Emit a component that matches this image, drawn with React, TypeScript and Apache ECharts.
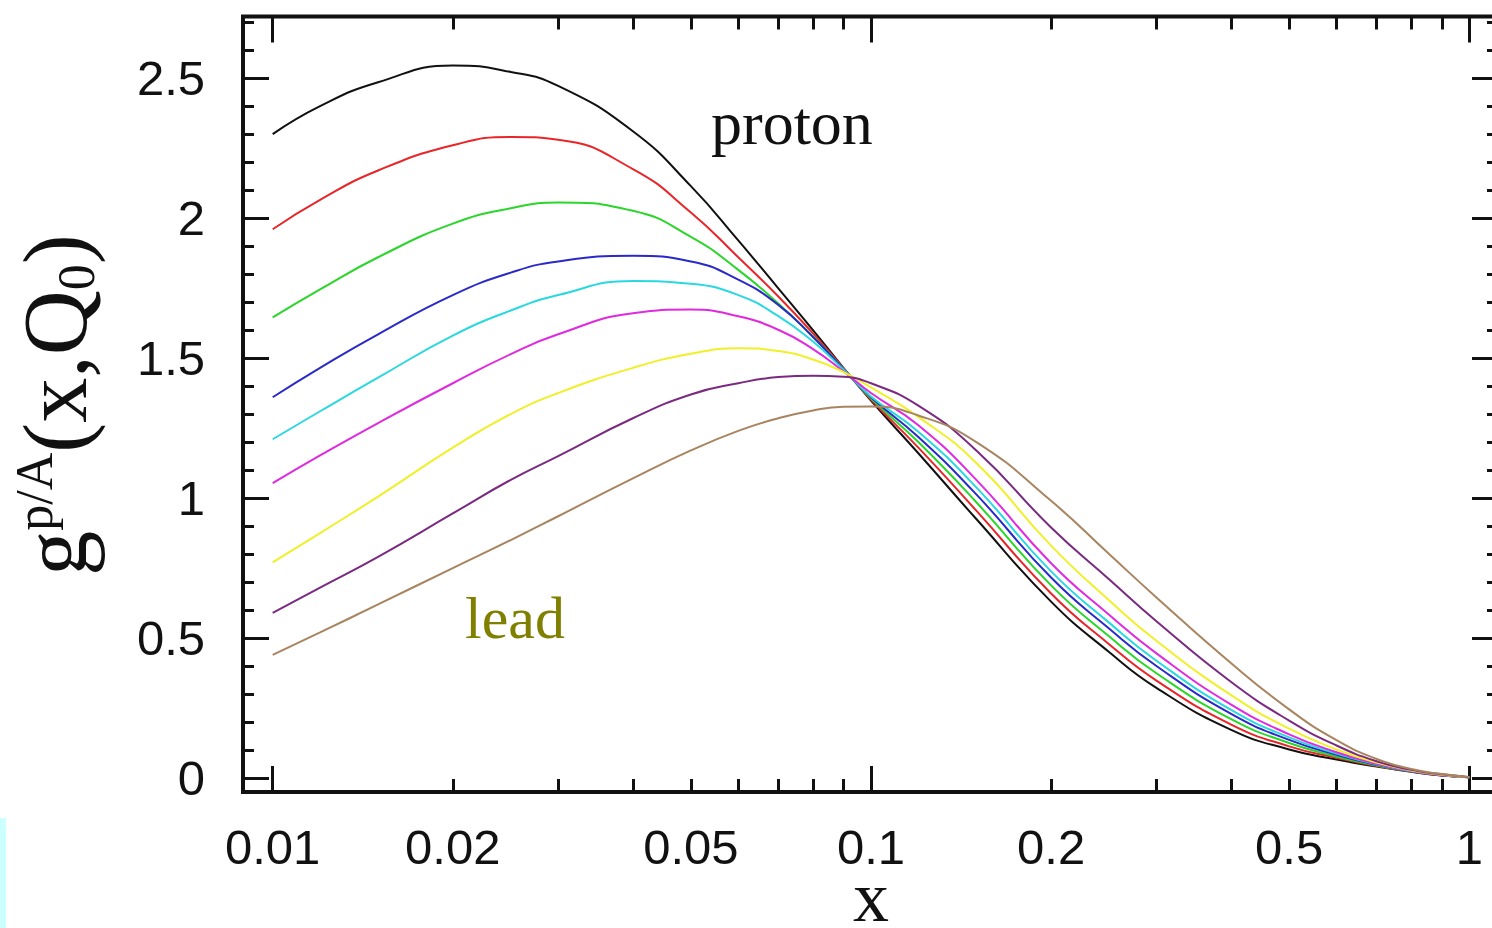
import React, { useEffect, useRef } from "react";
import * as echarts from "echarts";

// x grid (momentum fraction) shared by all curves
const X = [0.01, 0.012, 0.015, 0.02, 0.025, 0.03, 0.04, 0.05, 0.06, 0.07, 0.08, 0.09, 0.1, 0.12, 0.15, 0.2, 0.25, 0.3, 0.4, 0.5, 0.6, 0.7, 0.8, 0.9, 1.0];

// g^{p/A}(x,Q0) for the sequence of nuclei, proton -> lead
const PROTON = [2.30, 2.40, 2.485, 2.545, 2.522, 2.472, 2.31, 2.114, 1.92, 1.749, 1.60, 1.464, 1.348, 1.16, 0.925, 0.63, 0.45, 0.322, 0.172, 0.102, 0.066, 0.041, 0.022, 0.009, 0.003];
const RED = [1.96, 2.065, 2.17, 2.26, 2.29, 2.28, 2.175, 2.02, 1.86, 1.72, 1.588, 1.463, 1.352, 1.18, 0.955, 0.659, 0.478, 0.348, 0.191, 0.113, 0.072, 0.043, 0.023, 0.009, 0.003];
const GREEN = [1.645, 1.745, 1.86, 1.98, 2.035, 2.056, 2.026, 1.933, 1.815, 1.695, 1.577, 1.461, 1.356, 1.20, 0.985, 0.688, 0.506, 0.374, 0.21, 0.125, 0.077, 0.045, 0.024, 0.010, 0.003];
const BLUE = [1.36, 1.465, 1.585, 1.725, 1.805, 1.845, 1.865, 1.845, 1.78, 1.69, 1.575, 1.46, 1.36, 1.218, 1.013, 0.716, 0.534, 0.40, 0.229, 0.136, 0.083, 0.047, 0.024, 0.010, 0.003];
const CYAN = [1.21, 1.31, 1.43, 1.58, 1.67, 1.725, 1.775, 1.765, 1.725, 1.65, 1.559, 1.458, 1.363, 1.237, 1.038, 0.738, 0.555, 0.419, 0.243, 0.145, 0.087, 0.049, 0.025, 0.011, 0.003];
const MAGENTA = [1.053, 1.152, 1.268, 1.41, 1.514, 1.585, 1.66, 1.673, 1.649, 1.601, 1.532, 1.452, 1.375, 1.26, 1.065, 0.767, 0.583, 0.445, 0.262, 0.156, 0.092, 0.051, 0.026, 0.011, 0.003];
const YELLOW = [0.77, 0.875, 1.005, 1.18, 1.30, 1.375, 1.465, 1.515, 1.535, 1.525, 1.495, 1.45, 1.395, 1.29, 1.125, 0.83, 0.635, 0.49, 0.296, 0.176, 0.102, 0.055, 0.027, 0.012, 0.003];
const PURPLE = [0.59, 0.68, 0.79, 0.945, 1.065, 1.15, 1.285, 1.37, 1.41, 1.432, 1.437, 1.433, 1.41, 1.33, 1.17, 0.895, 0.71, 0.56, 0.343, 0.205, 0.116, 0.060, 0.029, 0.013, 0.003];
const LEAD = [0.44, 0.52, 0.62, 0.75, 0.85, 0.935, 1.07, 1.17, 1.24, 1.285, 1.313, 1.326, 1.327, 1.295, 1.20, 0.99, 0.80, 0.645, 0.41, 0.245, 0.135, 0.068, 0.032, 0.014, 0.004];

const SERIES_VALUES = [PROTON, RED, GREEN, BLUE, CYAN, MAGENTA, YELLOW, PURPLE, LEAD];
const SERIES_NAMES = ["proton", "A2", "A3", "A4", "A5", "A6", "A7", "A8", "lead"];
const SERIES_COLORS = ["#111111", "#e8262a", "#2ad62a", "#2a2ac8", "#2ad8e0", "#e02ae0", "#f0f02a", "#7a2a80", "#a88560"];

// axes
const X_RANGE = [0.00892, 1.117];
const Y_RANGE = [-0.05, 2.72];
const X_MAJOR = [0.01, 0.1, 1];
const X_MINOR = [0.02, 0.03, 0.04, 0.05, 0.06, 0.07, 0.08, 0.09, 0.2, 0.3, 0.4, 0.5, 0.6, 0.7, 0.8, 0.9];
const X_LABEL_VALUES = [0.01, 0.02, 0.05, 0.1, 0.2, 0.5, 1];
const X_LABELS = ["0.01", "0.02", "0.05", "0.1", "0.2", "0.5", "1"];
const Y_MAJOR = [0, 0.5, 1, 1.5, 2, 2.5];
const Y_LABELS = ["0", "0.5", "1", "1.5", "2", "2.5"];
const Y_MINOR = [0.1, 0.2, 0.3, 0.4, 0.6, 0.7, 0.8, 0.9, 1.1, 1.2, 1.3, 1.4, 1.6, 1.7, 1.8, 1.9, 2.1, 2.2, 2.3, 2.4, 2.6, 2.7];

const INK = "#111111";
const SANS = "'Liberation Sans', Arial, sans-serif";
const SERIF = "'Liberation Serif', 'Times New Roman', serif";

function buildOption() {
  const lg = Math.log10;
  const xmin = lg(X_RANGE[0]);
  const xmax = lg(X_RANGE[1]);

  const gridBox = (show: boolean) => ({
    left: 243,
    top: 16.5,
    right: 2,
    bottom: 136,
    show,
    borderColor: INK,
    borderWidth: 4,
    backgroundColor: "transparent",
    containLabel: false,
    outerBoundsMode: "none",
  });

  const xTickAxis = (gridIndex: number, position: string, values: number[], len: number, withLabels: boolean) => ({
    type: "value",
    gridIndex,
    position,
    min: xmin,
    max: xmax,
    axisLine: { show: false, onZero: false },
    splitLine: { show: false },
    axisTick: {
      show: true,
      inside: true,
      length: len,
      customValues: values.map(lg),
      lineStyle: { color: INK, width: 3 },
    },
    axisLabel: withLabels
      ? {
          show: true,
          customValues: X_LABEL_VALUES.map(lg),
          margin: 30,
          fontSize: 49,
          fontFamily: SANS,
          color: INK,
          formatter: (v: number) => {
            const i = X_LABEL_VALUES.findIndex((l) => Math.abs(lg(l) - v) < 1e-6);
            return i >= 0 ? X_LABELS[i] : "";
          },
        }
      : { show: false },
  });

  const yTickAxis = (gridIndex: number, position: string, values: number[], len: number, withLabels: boolean) => ({
    type: "value",
    gridIndex,
    position,
    min: Y_RANGE[0],
    max: Y_RANGE[1],
    axisLine: { show: false, onZero: false },
    splitLine: { show: false },
    axisTick: {
      show: true,
      inside: true,
      length: len,
      customValues: values,
      lineStyle: { color: INK, width: 3 },
    },
    axisLabel: withLabels
      ? {
          show: true,
          customValues: Y_MAJOR,
          margin: 38,
          fontSize: 49,
          fontFamily: SANS,
          color: INK,
          formatter: (v: number) => {
            const i = Y_MAJOR.findIndex((l) => Math.abs(l - v) < 1e-6);
            return i >= 0 ? Y_LABELS[i] : "";
          },
        }
      : { show: false },
  });

  return {
    animation: false,
    backgroundColor: "#ffffff",
    grid: [gridBox(true), gridBox(false), gridBox(false), gridBox(false), gridBox(false)],
    xAxis: [
      {
        type: "log",
        logBase: 10,
        gridIndex: 0,
        min: X_RANGE[0],
        max: X_RANGE[1],
        position: "bottom",
        axisLine: { show: false, onZero: false },
        axisTick: { show: false },
        axisLabel: { show: false },
        splitLine: { show: false },
        minorTick: { show: false },
      },
      xTickAxis(1, "bottom", X_MAJOR, 26, true),
      xTickAxis(2, "bottom", X_MINOR, 13, false),
      xTickAxis(3, "top", X_MAJOR, 26, false),
      xTickAxis(4, "top", X_MINOR, 13, false),
    ],
    yAxis: [
      {
        type: "value",
        gridIndex: 0,
        min: Y_RANGE[0],
        max: Y_RANGE[1],
        position: "left",
        axisLine: { show: false, onZero: false },
        axisTick: { show: false },
        axisLabel: { show: false },
        splitLine: { show: false },
      },
      yTickAxis(1, "left", Y_MAJOR, 26, true),
      yTickAxis(2, "left", Y_MINOR, 11, false),
      yTickAxis(3, "right", Y_MAJOR, 26, false),
      yTickAxis(4, "right", Y_MINOR, 11, false),
    ],
    series: SERIES_VALUES.map((vals, si) => ({
      name: SERIES_NAMES[si],
      type: "line",
      xAxisIndex: 0,
      yAxisIndex: 0,
      showSymbol: false,
      symbol: "none",
      smooth: 0.5,
      clip: true,
      lineStyle: { color: SERIES_COLORS[si], width: 2 },
      itemStyle: { color: SERIES_COLORS[si] },
      data: X.map((x, i) => [x, vals[i]]),
      z: 3,
    })),
    graphic: [
      {
        type: "rect",
        silent: true,
        shape: { x: 0, y: 818, width: 6, height: 110 },
        style: { fill: "#ccffff" },
      },
      {
        type: "text",
        silent: true,
        x: 55,
        y: 405,
        rotation: Math.PI / 2,
        style: {
          text: "{m|g}{sup|p/A}{m|(x,Q}{sub|0}{m|)}",
          align: "center",
          verticalAlign: "middle",
          fill: INK,
          rich: {
            m: { fontSize: 90, fontFamily: SERIF, lineHeight: 94, fill: INK },
            sup: { fontSize: 52, fontFamily: SERIF, lineHeight: 52, verticalAlign: "top", fill: INK },
            sub: { fontSize: 52, fontFamily: SERIF, lineHeight: 52, verticalAlign: "bottom", fill: INK },
          },
        },
      },
      {
        type: "text",
        silent: true,
        x: 871,
        y: 897,
        style: { text: "x", fontSize: 72, fontFamily: SERIF, fill: INK, align: "center", verticalAlign: "middle" },
      },
      {
        type: "text",
        silent: true,
        x: 711,
        y: 123,
        style: { text: "proton", fontSize: 62, fontFamily: SERIF, fill: INK, align: "left", verticalAlign: "middle" },
      },
      {
        type: "text",
        silent: true,
        x: 465,
        y: 618,
        style: { text: "lead", fontSize: 60, fontFamily: SERIF, fill: "#808000", align: "left", verticalAlign: "middle" },
      },
    ],
  };
}

export default function App() {
  const ref = useRef<HTMLDivElement>(null);
  useEffect(() => {
    if (!ref.current) return;
    const chart = echarts.init(ref.current, undefined, { renderer: "svg" });
    chart.setOption(buildOption() as any);
    return () => chart.dispose();
  }, []);
  return (
    <div style={{ position: "fixed", left: 0, top: 0, width: 1492, height: 928, overflow: "hidden", background: "#fff" }}>
      <div ref={ref} style={{ width: 1500, height: 928 }} />
    </div>
  );
}
